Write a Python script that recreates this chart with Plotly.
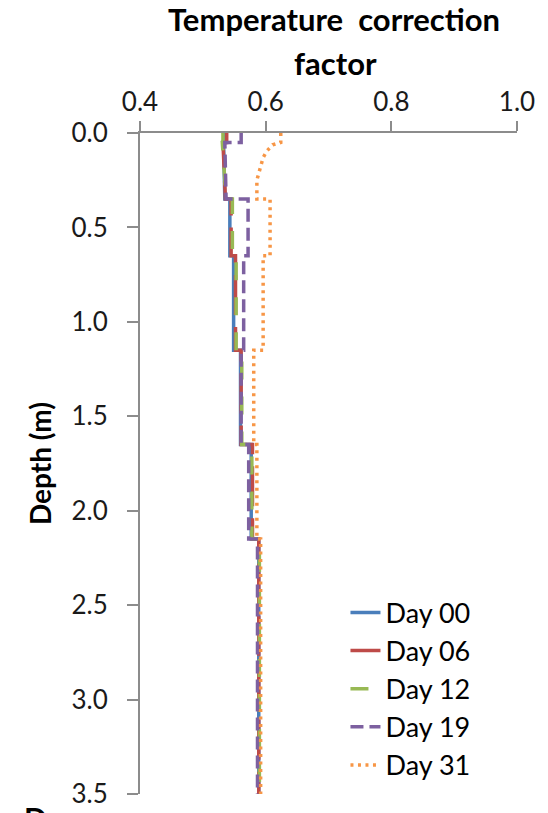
import plotly.graph_objects as go

# Depth profile steps (m)
depth_steps = [0, 0.05, 0.05, 0.35, 0.35, 0.65, 0.65, 1.15, 1.15, 1.65, 1.65, 2.15, 2.15, 3.5]

day00 = [0.536, 0.536, 0.533, 0.535, 0.543, 0.543, 0.549, 0.549, 0.560, 0.560, 0.577, 0.577, 0.589, 0.589]
day06 = [0.538, 0.538, 0.532, 0.536, 0.545, 0.545, 0.552, 0.552, 0.561, 0.561, 0.579, 0.579, 0.589, 0.589]
day12 = [0.532, 0.532, 0.531, 0.537, 0.547, 0.547, 0.553, 0.553, 0.562, 0.562, 0.578, 0.578, 0.590, 0.590]
day19 = [0.561, 0.561, 0.535, 0.537, 0.572, 0.572, 0.565, 0.565, 0.561, 0.561, 0.573, 0.573, 0.587, 0.587]

depth31 = [0, 0.05, 0.063, 0.095, 0.13, 0.21, 0.25, 0.35, 0.35, 0.65, 0.65, 1.15, 1.15, 1.65, 1.65, 2.15, 2.15, 3.5]
day31 = [0.624, 0.624, 0.611, 0.602, 0.596, 0.589, 0.586, 0.586, 0.607, 0.607, 0.596, 0.596, 0.581, 0.581, 0.586, 0.586, 0.592, 0.592]

series = [
    ("Day 00", depth_steps, day00, "#4A7EBB", "solid"),
    ("Day 06", depth_steps, day06, "#BE4B48", "40px,12px"),
    ("Day 12", depth_steps, day12, "#98B954", "18px,17px"),
    ("Day 19", depth_steps, day19, "#7D60A0", "13px,6px"),
    ("Day 31", depth31, day31, "#F79646", "3px,4.5px"),
]

x_ticks = [0.4, 0.6, 0.8, 1.0]
y_ticks = [0.0, 0.5, 1.0, 1.5, 2.0, 2.5, 3.0, 3.5]

FONT = "Lato"
fig = go.Figure()
for name, d, v, color, dash in series:
    fig.add_trace(go.Scatter(x=v, y=d, mode="lines", name=name,
                             line=dict(color=color, width=3.5, dash=dash)))

axis_color = "#8C8C8C"
fig.update_layout(
    width=548, height=813,
    margin=dict(l=140, r=31, t=133, b=19),
    paper_bgcolor="white", plot_bgcolor="white",
    font=dict(family=FONT, size=26, color="#1a1a1a"),
    xaxis=dict(range=[0.4, 1.0], side="top", tickvals=x_ticks, ticktext=[f"{t:.1f}" for t in x_ticks],
               showgrid=False, zeroline=False, showline=True, linecolor=axis_color, linewidth=2,
               ticks="outside", ticklen=10, tickwidth=2, tickcolor=axis_color,
               tickfont=dict(size=26, family=FONT), ticklabelstandoff=0, anchor="y",
               automargin=False),
    yaxis=dict(range=[3.5, 0], tickvals=y_ticks, ticktext=[f"{t:.1f}" for t in y_ticks],
               showgrid=False, zeroline=False, showline=True, linecolor=axis_color, linewidth=2,
               ticks="outside", ticklen=11, tickwidth=2, tickcolor=axis_color,
               tickfont=dict(size=26, family=FONT), ticklabelstandoff=14, automargin=False,
               title=dict(text="<b>Depth (m)</b>", font=dict(size=28, family=FONT, color="black"), standoff=12)),
    xaxis2=dict(range=[0.4, 1.0], overlaying="x", anchor="y", side="top", tickvals=x_ticks,
                showticklabels=False, showgrid=False, zeroline=False, showline=False,
                ticks="inside", ticklen=10, tickwidth=2, tickcolor=axis_color, automargin=False),
    yaxis2=dict(range=[3.5, 0], overlaying="y", anchor="x", side="left", tickvals=y_ticks,
                showticklabels=False, showgrid=False, zeroline=False, showline=False,
                ticks="inside", ticklen=11, tickwidth=2, tickcolor=axis_color, automargin=False),
    legend=dict(x=0.545, y=0.311, xanchor="left", yanchor="top", bgcolor="rgba(0,0,0,0)",
                font=dict(size=27, family=FONT, color="black")),
    showlegend=True,
)

fig.add_annotation(text="<b>Temperature&nbsp; correction</b>", xref="paper", yref="paper",
                   x=(334 - 140) / 377, y=(794 - 39) / 662, xanchor="center", yanchor="bottom",
                   showarrow=False, font=dict(size=31, family=FONT, color="black"))
fig.add_annotation(text="<b>factor</b>", xref="paper", yref="paper",
                   x=(335 - 140) / 377, y=(794 - 83) / 662, xanchor="center", yanchor="bottom",
                   showarrow=False, font=dict(size=31, family=FONT, color="black"))
fig.add_annotation(text="<b>D</b>", xref="paper", yref="paper",
                   x=(22 - 140) / 377, y=(794 - 798) / 662, xanchor="left", yanchor="top",
                   showarrow=False, font=dict(size=30, family=FONT, color="black"))

fig.write_html("out.html")
